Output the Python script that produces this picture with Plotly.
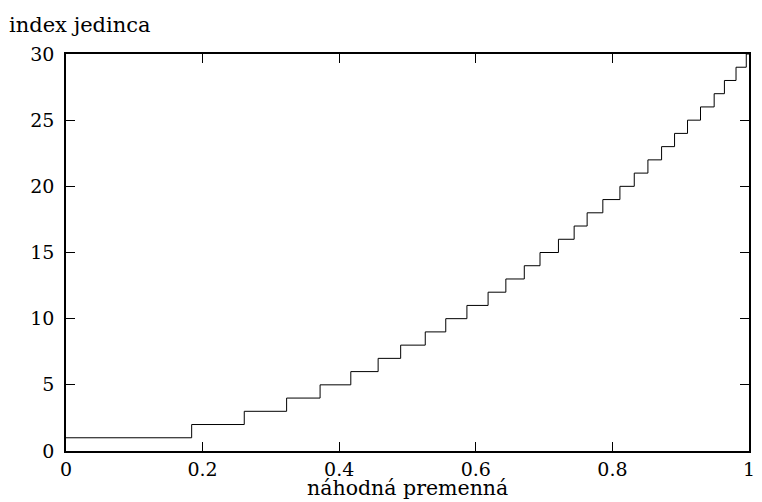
import plotly.graph_objects as go

# index of individual (level) and the random-variable value where it starts
indexy = list(range(1, 31))
prahy = [0.000, 0.184, 0.261, 0.323, 0.372, 0.417, 0.457, 0.490, 0.526, 0.556,
         0.587, 0.618, 0.644, 0.671, 0.694, 0.721, 0.744, 0.763, 0.786, 0.811,
         0.832, 0.852, 0.872, 0.891, 0.910, 0.929, 0.949, 0.964, 0.981, 0.996]
x_koniec = 1.0

x_tick_vals = [0, 0.2, 0.4, 0.6, 0.8, 1]
x_tick_text = ["0", "0.2", "0.4", "0.6", "0.8", "1"]
y_tick_vals = [0, 5, 10, 15, 20, 25, 30]

xs = prahy + [x_koniec]
ys = indexy + [indexy[-1]]

FONT = "DejaVu Serif"
FS_TICK = 19
FS_TITLE = 20.5

fig = go.Figure()
fig.add_trace(go.Scatter(x=xs, y=ys, mode="lines", line_shape="hv",
                         line=dict(color="black", width=1), showlegend=False))

axis_common = dict(showline=True, linecolor="black", linewidth=1.5, mirror="ticks",
                   ticks="inside", ticklen=9, tickwidth=1, tickcolor="black",
                   showgrid=False, zeroline=False,
                   tickfont=dict(family=FONT, size=FS_TICK, color="black"))

fig.update_xaxes(range=[0, 1], tickvals=x_tick_vals, ticktext=x_tick_text,
                 ticklabelstandoff=0, **axis_common)
fig.update_yaxes(range=[0, 30], tickvals=y_tick_vals, ticklabelstandoff=6, **axis_common)

fig.add_annotation(text="index jedinca", xref="paper", yref="paper", x=-0.087, y=1.0,
                   xanchor="left", yanchor="bottom", yshift=15, showarrow=False,
                   font=dict(family=FONT, size=21, color="black"))
fig.add_annotation(text="náhodná premenná", xref="paper", yref="paper", x=0.5, y=0,
                   xanchor="center", yanchor="bottom", yshift=-50, showarrow=False,
                   borderpad=0,
                   font=dict(family=FONT, size=FS_TITLE, color="black"))

fig.update_layout(width=762, height=502, margin=dict(l=66, r=7, t=54, b=51),
                  plot_bgcolor="white", paper_bgcolor="white",
                  font=dict(family=FONT, size=FS_TICK, color="black"))

fig.write_html("out.html")
